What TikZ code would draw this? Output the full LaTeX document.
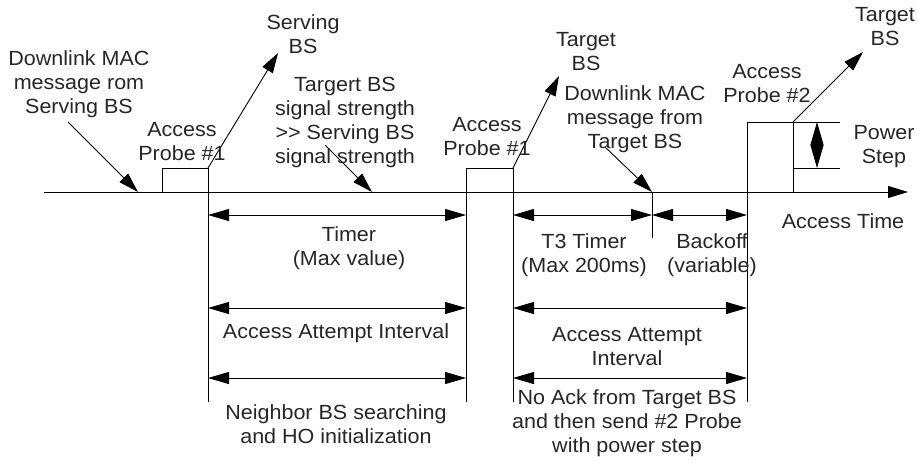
\documentclass[tikz,border=0pt]{standalone}
\usepackage{fontspec}
\setmainfont[FakeStretch=1.05]{Liberation Sans}
\usetikzlibrary{arrows.meta}
\begin{document}
\begin{tikzpicture}[x=1pt,y=-1pt,
  line width=0.9pt,
  % multi-line labels are placed by the baseline of their last line
  lbl/.style={font=\fontsize{20.5}{24}\selectfont, align=center, inner sep=0pt, anchor=base, text=black!85},
  tipped/.style={-{Triangle[length=20pt,width=12pt]}},
  dimline/.style={{Triangle[length=21pt,width=12pt]}-{Triangle[length=21pt,width=12pt]}},
  stepline/.style={{Triangle[length=23pt,width=13pt]}-{Triangle[length=23pt,width=13pt]}}]
\useasboundingbox (0,0) rectangle (918,464);

% time axis
\coordinate (ax0) at (44,192);
\coordinate (ax1) at (908,192);
\draw[tipped] (ax0) -- (ax1);

% first access probe (serving BS)
\coordinate (p1a) at (162,192);
\coordinate (p1b) at (162,168);
\coordinate (p1c) at (208,168);
\coordinate (p1d) at (208,402);
\draw (p1a) -- (p1b) -- (p1c) -- (p1d);

% first access probe (target BS)
\coordinate (p2a) at (466,402);
\coordinate (p2b) at (466,168);
\coordinate (p2c) at (513,168);
\coordinate (p2d) at (513,402);
\draw (p2a) -- (p2b) -- (p2c) -- (p2d);

% second access probe with power step
\coordinate (p3a) at (747,402);
\coordinate (p3b) at (747,122);
\coordinate (p3c) at (793,122);
\coordinate (p3d) at (793,192);
\coordinate (p3e) at (840,122);
\coordinate (p3f) at (793,168);
\coordinate (p3g) at (840,168);
\draw (p3a) -- (p3b) -- (p3e);
\draw (p3c) -- (p3d);
\draw (p3f) -- (p3g);
\coordinate (ps0) at (817,122);
\coordinate (ps1) at (817,168);
\draw[stepline] (ps0) -- (ps1);

% downlink message from target BS marker
\coordinate (dl0) at (652,192);
\coordinate (dl1) at (652,238);
\draw (dl0) -- (dl1);

% interval rows
\coordinate (r1a) at (208,215); \coordinate (r1b) at (466,215);
\coordinate (r1c) at (513,215); \coordinate (r1d) at (652,215);
\coordinate (r1e) at (747,215);
\draw[dimline] (r1a) -- (r1b);
\draw[dimline] (r1c) -- (r1d);
\draw[dimline] (r1d) -- (r1e);
\coordinate (r2a) at (208,308); \coordinate (r2b) at (466,308);
\coordinate (r2c) at (513,308); \coordinate (r2d) at (747,308);
\draw[dimline] (r2a) -- (r2b);
\draw[dimline] (r2c) -- (r2d);
\coordinate (r3a) at (208,378); \coordinate (r3b) at (466,378);
\coordinate (r3c) at (513,378); \coordinate (r3d) at (747,378);
\draw[dimline] (r3a) -- (r3b);
\draw[dimline] (r3c) -- (r3d);

% pointers to the axis
\coordinate (m1s) at (68,122);  \coordinate (m1e) at (138,192);
\draw[tipped] (m1s) -- (m1e);
\coordinate (m2s) at (325,145); \coordinate (m2e) at (372,192);
\draw[tipped] (m2s) -- (m2e);
\coordinate (m3s) at (605,147);
\draw[tipped] (m3s) -- (dl0);

% probes sent to base stations
\coordinate (u1) at (278,53);
\draw[tipped] (p1c) -- (u1);
\coordinate (u2) at (559,76);
\draw[tipped] (p2c) -- (u2);
\coordinate (u3) at (863,52);
\draw[tipped] (p3c) -- (u3);

% labels
\node[lbl] (t1) at (79,113) {Downlink MAC\\message rom\\Serving BS};
\node[lbl] (t2) at (303,53) {Serving\\BS};
\node[lbl] (t3) at (345,163) {Targert BS\\signal strength\\>{}> Serving BS\\signal strength};
\node[lbl] (t4) at (182,160) {Access\\Probe \#1};
\node[lbl] (t5) at (487,155) {Access\\Probe \#1};
\node[lbl] (t6) at (586,70) {Target\\BS};
\node[lbl] (t7) at (635,148) {Downlink MAC\\message from\\Target BS};
\node[lbl] (t8) at (767,102) {Access\\Probe \#2};
\node[lbl] (t9) at (885,45) {Target\\BS};
\node[lbl] (t10) at (884,163) {Power\\Step};
\node[lbl] (t11) at (843,228) {Access Time};
\node[lbl] (t12) at (349,265) {Timer\\(Max value)};
\node[lbl] (t13) at (336,338) {Access Attempt Interval};
\node[lbl] (t14) at (336,443) {Neighbor BS searching\\and HO initialization};
\node[lbl] (t15) at (584,272) {T3 Timer\\(Max 200ms)};
\node[lbl] (t16) at (712,272) {Backoff\\(variable)};
\node[lbl] (t17) at (627,365) {Access Attempt\\Interval};
\node[lbl] (t18) at (627,452) {No Ack from Target BS\\and then send \#2 Probe\\with power step};
\end{tikzpicture}
\end{document}
